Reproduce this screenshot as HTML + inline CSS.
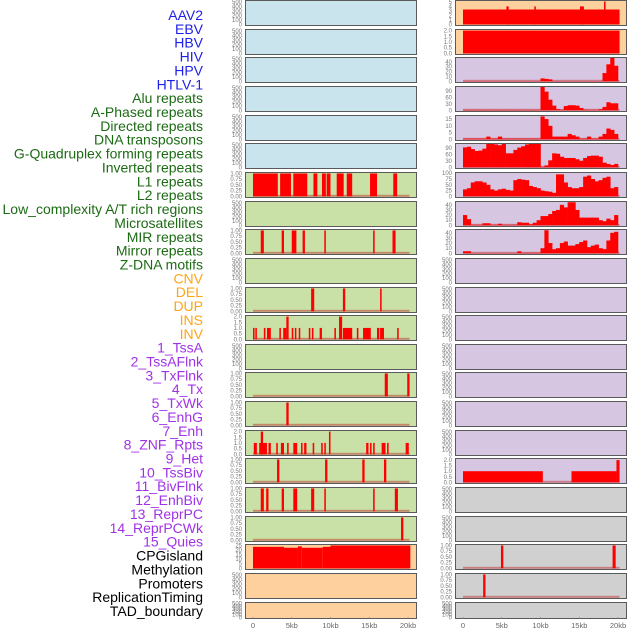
<!DOCTYPE html>
<html><head><meta charset="utf-8"><style>
html,body{margin:0;padding:0;background:#fff;}
svg{display:block;font-family:"Liberation Sans",sans-serif;}
</style></head><body>
<svg id="c" width="630" height="630" viewBox="0 0 630 630"></svg>
<script>
const labels=["AAV2","EBV","HBV","HIV","HPV","HTLV-1","Alu repeats","A-Phased repeats","Directed repeats","DNA transposons","G-Quadruplex forming repeats","Inverted repeats","L1 repeats","L2 repeats","Low_complexity A/T rich regions","Microsatellites","MIR repeats","Mirror repeats","Z-DNA motifs","CNV","DEL","DUP","INS","INV","1_TssA","2_TssAFlnk","3_TxFlnk","4_Tx","5_TxWk","6_EnhG","7_Enh","8_ZNF_Rpts","9_Het","10_TssBiv","11_BivFlnk","12_EnhBiv","13_ReprPC","14_ReprPCWk","15_Quies","CPGisland","Methylation","Promoters","ReplicationTiming","TAD_boundary"];
const labelGroups=[6,13,5,15,5];
const groupColors=["#1f1fe6","#1c6b14","#ffa514","#a032e6","#000000"];
const leftBg=["b","b","b","b","b","b","g","g","g","g","g","g","g","g","g","g","g","g","g","p","p","p"];
const rightBg=["p","p","l","l","l","l","l","l","l","l","l","l","l","l","l","l","l","r","r","r","r","r"];
const xTicks=[0,5,10,15,20];
const xTickLabels=["0","5kb","10kb","15kb","20kb"];
const emptyTicks=[0,100,200,300,400,500];
const t1=[0,0.25,0.5,0.75,1];
const t1L=["0.00","0.25","0.50","0.75","1.00"];
const t2=[0,0.5,1,1.5,2];
const t2L=["0.0","0.5","1.0","1.5","2.0"];
// left segments [startKb,endKb,value]
const l1Segs=[[0,3.2,1],[3.5,4.9,1],[5.2,7,1],[7.8,8.3,1],[8.9,9.4,1],[9.5,10,1],[10.8,11.7,1],[12.1,12.8,1],[15.1,16,1],[18.1,18.6,1]];
const mirSegs=[[1,1.4,1],[3.7,4,1],[5,5.6,1],[6.4,6.7,1],[9.2,9.4,1],[15.5,15.7,1],[18,18.4,1]];
const delSegs=[[7.5,7.9,1],[11.6,11.9,1],[16.4,16.6,1]];
const insSegs=[[0,0.2,1],[0.3,0.5,1],[1.4,1.6,1],[1.8,2.3,1],[3.4,3.6,1],[3.9,4.3,1],[4.3,4.6,2],[5,5.2,1],[5.4,5.6,1],[5.9,6.1,1],[7.2,7.4,1],[7.6,7.8,1],[8.6,8.9,1],[10.5,10.7,1],[11.1,11.5,2],[11.6,12.8,1],[13.4,13.6,1],[14.2,15.2,1],[16,16.3,1],[16.4,16.9,1],[18.6,18.8,1]];
const tssAFlnkSegs=[[17,17.4,1],[19.9,20.2,1]];
const txFlnkSegs=[[4.3,4.6,1]];
const txSegs=[[0.1,0.5,1],[0.8,1.8,1],[1,1.3,2],[2,2.3,1],[3,3.2,1],[3.6,4,1],[4.4,4.6,1],[5.2,5.7,1],[6.2,6.4,1],[6.6,6.9,1],[7.7,7.9,1],[8.8,9,1],[9.2,9.4,1],[9.8,10,2],[14.6,14.9,1],[15.1,15.3,1],[15.5,15.7,1],[16.6,17.1,1],[17.3,17.5,1],[19.7,20.1,1]];
const txWkSegs=[[3.1,3.4,1],[9.3,9.6,1],[14.1,14.4,1],[16.9,17.2,1]];
const enhGSegs=[[1,1.4,1],[1.7,2,1],[3.7,4,1],[5.2,5.7,1],[7.5,7.9,1],[9.2,9.4,1],[15.5,15.7,1],[18.3,18.7,1]];
const enhSegs=[[19.1,19.4,1]];
const cpgSegs=[[0,4,23.5],[4,5.8,22.5],[5.8,6.3,24],[6.3,9,22.5],[9,10,23.5],[10,20.3,25]];
// right segments
const aavSegs=[[0,20.2,3.3],[5.6,5.9,4],[9.2,9.4,4],[15.1,15.6,4],[18.2,18.4,5.1]];
const ebvSegs=[[0,20.2,2]];
const bivSegs=[[0,10.3,1],[14,19.8,1],[19.8,20.2,2]];
const cpgRSegs=[[4.9,5.2,1],[19.3,19.7,1]];
const methRSegs=[[2.6,2.9,1]];
// right binned series, 0.5kb bins
const hivVals=[0.5,0.5,0.5,0.5,0.5,0.5,0.5,0.5,0.5,0.5,0.5,0.5,0.5,0.5,0.5,0.5,0.5,0.5,0.5,0.5,6,5,4,0.5,0.5,0.5,0.5,0.5,0.5,0.5,0.5,0.5,0.5,0.5,0.5,0.5,17,35,48,32];
const hpvVals=[2,2,2,2,2,2,2,2,2,2,2,2,2,2,2,2,2,2,2,2,110,88,50,22,5,2,20,24,24,22,11,3,2,2,2,5,16,38,33,33];
const htlvVals=[0.5,0.5,0.5,0.5,0.5,0.5,2,0.5,0.5,2,0.5,0.5,0.5,0.5,0.5,0.5,0.5,0.5,0.5,0.5,17,15,10,2,2,2,2,4,3,2,0.5,0.5,2,0.5,0.5,2,4,8,7,4];
const aluVals=[94,97,86,77,79,88,110,110,108,104,110,66,66,82,93,99,108,110,110,110,2,9,33,66,64,50,44,44,44,38,31,44,53,55,55,50,22,16,11,16];
const aphVals=[30,35,60,65,65,60,50,30,25,30,33,28,25,70,75,72,70,45,40,35,25,22,20,15,95,95,60,40,35,35,40,85,90,75,65,70,80,85,35,40];
const dirVals=[20,12,1,1,1,4,4,1,1,3,1,1,1,1,6,5,5,2,5,10,18,18,22,28,30,40,35,45,45,30,15,15,15,15,15,10,8,13,10,20];
const dnaVals=[4,4,0.5,0.5,0.5,0.5,0.5,0.5,0.5,0.5,0.5,0.5,0.5,0.5,4,1,1,1,1,1,10,45,20,8,10,20,23,15,15,18,22,25,12,15,17,10,8,25,40,42];

const svg=document.getElementById('c');
const NS="http://www.w3.org/2000/svg";
function mk(tag,attrs,parent){const e=document.createElementNS(NS,tag);for(const k in attrs)e.setAttribute(k,attrs[k]);(parent||svg).appendChild(e);return e;}
const bgCol={b:"#c9e4ec",g:"#c9e1a6",p:"#fed09e",l:"#d6c6e2",r:"#d0d0d0"};
const PX=7.75, LX0=253, RX0=463, LF=245, RF=455, PW=171;
function rowTop(i){return Math.round(i*28.65);}
function rowH(i){return i===21?16:25;}

// labels
let gi=0,gc=0;
labels.forEach((t,i)=>{
  const el=mk('text',{x:203,y:15+i*13.86+5,'text-anchor':'end','font-size':14,fill:groupColors[gi]});
  el.textContent=t;
  
  
  gc++; if(gc>=labelGroups[gi]&&gi<labelGroups.length-1){gi++;gc=0;}
});

function panel(side,row,ymax,ticks,tickLabels,segs,bins,empty){
  const fx=side==='L'?LF:RF, x0=side==='L'?LX0:RX0;
  const top=rowTop(row), h=rowH(row);
  const g=mk('g',{});
  
  
  const bg=mk('rect',{x:fx+0.5,y:top+0.5,width:PW,height:h,fill:bgCol[side==='L'?leftBg[row]:rightBg[row]],stroke:"#5a5a5a","stroke-width":1},g);
  
  
  const yb=top+h-0.7, yt=top+1;
  const ys=v=>yb-(v/ymax)*(yb-yt);
  const xs=k=>x0+k*PX;
  ticks.forEach((v,j)=>{
    const tl=mk('text',{x:fx-3,y:ys(v)+2,'text-anchor':'end','font-size':6,fill:"#777"},g);
    tl.textContent=tickLabels[j];
    
    
  });
  if(empty)return;
  const base=mk('rect',{x:xs(0),y:yb-1.5,width:xs(20.2)-xs(0),height:2,fill:"rgba(190,50,50,0.5)"},g);
  
  
  if(segs)segs.forEach(s=>{
    const r=mk('rect',{x:xs(s[0]),y:ys(s[2]),width:Math.max(1,xs(s[1])-xs(s[0])),height:yb-ys(s[2]),fill:"#ff0000"},g);
    
    
  });
  if(bins)bins.forEach((v,j)=>{
    const r=mk('rect',{x:xs(j*0.5),y:ys(v),width:0.5*PX+0.3,height:yb-ys(v),fill:"#ff0000"},g);
    
    
  });
}
const eL=emptyTicks.map(String);
// left
const leftMap={6:[1.02,t1,t1L,l1Segs],8:[1.02,t1,t1L,mirSegs],10:[1.02,t1,t1L,delSegs],11:[2.05,t2,t2L,insSegs],13:[1.02,t1,t1L,tssAFlnkSegs],14:[1.02,t1,t1L,txFlnkSegs],15:[2.05,t2,t2L,txSegs],16:[1.02,t1,t1L,txWkSegs],17:[1.02,t1,t1L,enhGSegs],18:[1.02,t1,t1L,enhSegs],19:[25.5,[0,5,10,15,20,25],["0","5","10","15","20","25"],cpgSegs]};
for(let r=0;r<22;r++){
  const m=leftMap[r];
  if(m)panel('L',r,m[0],m[1],m[2],m[3],null,false);
  else panel('L',r,520,emptyTicks,eL,null,null,true);
}
const rightSeg={0:[5.2,[0,1,2,3,4,5],["0","1","2","3","4","5"],aavSegs],1:[2.05,t2,t2L,ebvSegs],16:[2.1,t2,t2L,bivSegs],19:[1.02,t1,t1L,cpgRSegs],20:[1.02,t1,t1L,methRSegs]};
const rightBin={2:[48,[0,10,20,30,40],hivVals],3:[110,[0,30,60,90],hpvVals],4:[17.3,[0,5,10,15],htlvVals],5:[110,[0,30,60,90],aluVals],6:[101,[0,25,50,75,100],aphVals],7:[45.5,[0,10,20,30,40],dirVals],8:[45.5,[0,10,20,30,40],dnaVals]};
for(let r=0;r<22;r++){
  if(rightSeg[r]){const m=rightSeg[r];panel('R',r,m[0],m[1],m[2],m[3],null,false);}
  else if(rightBin[r]){const m=rightBin[r];panel('R',r,m[0],m[1],m[1].map(String),null,m[2],false);}
  else panel('R',r,520,emptyTicks,eL,null,null,true);
}
// x axes
[LX0,RX0].forEach((x0,si)=>{
  xTicks.forEach((k,j)=>{
    const tk=mk('line',{x1:x0+k*PX,x2:x0+k*PX,y1:617,y2:619,stroke:"#888","stroke-width":0.8});
    
    
    const t=mk('text',{x:x0+k*PX,y:628,'text-anchor':'middle','font-size':7.5,fill:"#666"});
    t.textContent=xTickLabels[j];
    
    
  });
});
</script>
</body></html>
